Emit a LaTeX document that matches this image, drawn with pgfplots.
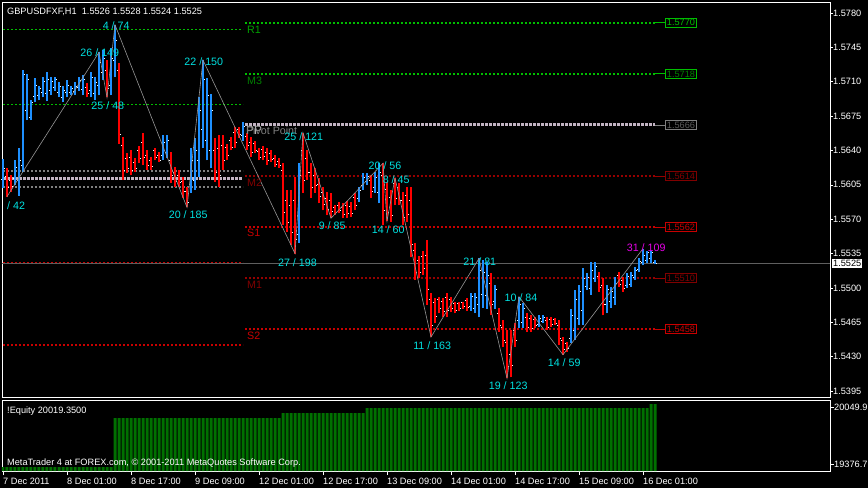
\documentclass[border=0pt]{standalone}
\usepackage{fontspec}
\setmainfont{Liberation Sans}
\usepackage{pgfplots}
\usepackage{pgfplotstable}
\pgfplotsset{compat=1.18}
\definecolor{upblue}{RGB}{30,144,255}
\definecolor{dnred}{RGB}{255,0,0}
\definecolor{lgreen}{RGB}{0,190,0}
\definecolor{tgreenA}{RGB}{0,160,0}
\definecolor{tgreenB}{RGB}{0,128,0}
\definecolor{sred}{RGB}{200,0,0}
\definecolor{mred}{RGB}{150,0,0}
\definecolor{tmred}{RGB}{128,0,0}
\definecolor{pivgray}{RGB}{195,180,195}
\definecolor{dgray}{RGB}{128,128,128}
\definecolor{zzgray}{RGB}{150,150,150}
\definecolor{curgray}{RGB}{95,95,95}
\definecolor{zcyan}{RGB}{0,225,225}
\definecolor{zmag}{RGB}{230,0,230}
\definecolor{eqgreen}{RGB}{0,112,0}
\newcommand\af{\fontsize{9.2}{11}\selectfont}
\newcommand\lf{\fontsize{10.7}{12}\selectfont}

% up bars: low, high (nan ends each stroke)
\pgfplotstableread{
i p
0 1.5602
0 1.5631
0 nan
3 1.5605
3 1.5630
3 nan
4 1.5594
4 1.5643
4 nan
5 1.5618
5 1.5722
5 nan
6 1.5671
6 1.5718
6 nan
7 1.5671
7 1.5691
7 nan
8 1.5689
8 1.5714
8 nan
9 1.5691
9 1.5706
9 nan
10 1.5694
10 1.5715
10 nan
11 1.5690
11 1.5720
11 nan
12 1.5696
12 1.5715
12 nan
13 1.5701
13 1.5715
13 nan
14 1.5694
14 1.5710
14 nan
15 1.5689
15 1.5706
15 nan
16 1.5694
16 1.5712
16 nan
17 1.5696
17 1.5706
17 nan
18 1.5696
18 1.5710
18 nan
19 1.5701
19 1.5715
19 nan
20 1.5696
20 1.5717
20 nan
22 1.5694
22 1.5720
22 nan
23 1.5691
23 1.5715
23 nan
24 1.5696
24 1.5740
24 nan
25 1.5712
25 1.5742
25 nan
27 1.5696
27 1.5744
27 nan
28 1.5715
28 1.5768
28 nan
40 1.5630
40 1.5656
40 nan
41 1.5632
41 1.5656
41 nan
47 1.5597
47 1.5643
47 nan
48 1.5600
48 1.5653
48 nan
49 1.5613
49 1.5694
49 nan
50 1.5643
50 1.5732
50 nan
51 1.5630
51 1.5714
51 nan
52 1.5622
52 1.5698
52 nan
60 1.5650
60 1.5669
60 nan
74 1.5546
74 1.5627
74 nan
89 1.5587
89 1.5603
89 nan
90 1.5600
90 1.5617
90 nan
91 1.5605
91 1.5617
91 nan
93 1.5597
93 1.5618
93 nan
94 1.5586
94 1.5627
94 nan
117 1.5477
117 1.5495
117 nan
118 1.5474
118 1.5495
118 nan
119 1.5470
119 1.5530
119 nan
120 1.5480
120 1.5528
120 nan
121 1.5479
121 1.5526
121 nan
123 1.5479
123 1.5503
123 nan
129 1.5459
129 1.5491
129 nan
130 1.5459
130 1.5485
130 nan
134 1.5460
134 1.5472
134 nan
135 1.5464
135 1.5472
135 nan
142 1.5444
142 1.5479
142 nan
143 1.5447
143 1.5498
143 nan
144 1.5462
144 1.5503
144 nan
145 1.5462
145 1.5520
145 nan
146 1.5498
146 1.5515
146 nan
147 1.5493
147 1.5526
147 nan
148 1.5506
148 1.5526
148 nan
151 1.5474
151 1.5503
151 nan
152 1.5480
152 1.5501
152 nan
153 1.5483
153 1.5511
153 nan
156 1.5500
156 1.5515
156 nan
157 1.5501
157 1.5516
157 nan
158 1.5508
158 1.5521
158 nan
159 1.5516
159 1.5530
159 nan
160 1.5523
160 1.5540
160 nan
161 1.5525
161 1.5538
161 nan
162 1.5525
162 1.5538
162 nan
163 1.5524
163 1.5528
163 nan
}\uphl

% down bars: low, high
\pgfplotstableread{
i p
1 1.5593
1 1.5622
1 nan
2 1.5598
2 1.5615
2 nan
21 1.5694
21 1.5709
21 nan
26 1.5694
26 1.5732
26 nan
29 1.5647
29 1.5729
29 nan
30 1.5610
30 1.5654
30 nan
31 1.5617
31 1.5637
31 nan
32 1.5615
32 1.5640
32 nan
33 1.5618
33 1.5632
33 nan
34 1.5627
34 1.5645
34 nan
35 1.5625
35 1.5658
35 nan
36 1.5620
36 1.5640
36 nan
37 1.5620
37 1.5633
37 nan
38 1.5630
38 1.5643
38 nan
39 1.5628
39 1.5638
39 nan
42 1.5607
42 1.5638
42 nan
43 1.5603
43 1.5623
43 nan
44 1.5603
44 1.5620
44 nan
45 1.5592
45 1.5613
45 nan
46 1.5582
46 1.5603
46 nan
53 1.5608
53 1.5653
53 nan
54 1.5603
54 1.5656
54 nan
55 1.5620
55 1.5656
55 nan
56 1.5630
56 1.5647
56 nan
57 1.5640
57 1.5654
57 nan
58 1.5642
58 1.5664
58 nan
59 1.5653
59 1.5664
59 nan
61 1.5640
61 1.5658
61 nan
62 1.5633
62 1.5654
62 nan
63 1.5637
63 1.5650
63 nan
64 1.5630
64 1.5642
64 nan
65 1.5630
65 1.5645
65 nan
66 1.5625
66 1.5643
66 nan
67 1.5628
67 1.5640
67 nan
68 1.5623
68 1.5635
68 nan
69 1.5622
69 1.5632
69 nan
70 1.5564
70 1.5627
70 nan
71 1.5557
71 1.5600
71 nan
72 1.5544
72 1.5600
72 nan
73 1.5535
73 1.5613
73 nan
75 1.5597
75 1.5658
75 nan
76 1.5610
76 1.5640
76 nan
77 1.5592
77 1.5627
77 nan
78 1.5597
78 1.5622
78 nan
79 1.5586
79 1.5612
79 nan
80 1.5579
80 1.5603
80 nan
81 1.5574
81 1.5598
81 nan
82 1.5571
82 1.5597
82 nan
83 1.5574
83 1.5584
83 nan
84 1.5576
84 1.5587
84 nan
85 1.5571
85 1.5586
85 nan
86 1.5571
86 1.5589
86 nan
87 1.5572
87 1.5587
87 nan
88 1.5579
88 1.5597
88 nan
92 1.5592
92 1.5615
92 nan
95 1.5564
95 1.5627
95 nan
96 1.5568
96 1.5608
96 nan
97 1.5567
97 1.5600
97 nan
98 1.5584
98 1.5612
98 nan
99 1.5584
99 1.5607
99 nan
100 1.5564
100 1.5598
100 nan
101 1.5567
101 1.5603
101 nan
102 1.5531
102 1.5603
102 nan
103 1.5508
103 1.5546
103 nan
104 1.5510
104 1.5533
104 nan
105 1.5513
105 1.5538
105 nan
106 1.5483
106 1.5549
106 nan
107 1.5450
107 1.5495
107 nan
108 1.5464
108 1.5490
108 nan
109 1.5474
109 1.5491
109 nan
110 1.5470
110 1.5490
110 nan
111 1.5470
111 1.5495
111 nan
112 1.5475
112 1.5491
112 nan
113 1.5474
113 1.5486
113 nan
114 1.5477
114 1.5486
114 nan
115 1.5479
115 1.5486
115 nan
116 1.5477
116 1.5490
116 nan
122 1.5472
122 1.5515
122 nan
124 1.5455
124 1.5480
124 nan
125 1.5440
125 1.5467
125 nan
126 1.5408
126 1.5457
126 nan
127 1.5409
127 1.5457
127 nan
128 1.5440
128 1.5464
128 nan
131 1.5455
131 1.5474
131 nan
132 1.5455
132 1.5472
132 nan
133 1.5459
133 1.5470
133 nan
136 1.5457
136 1.5470
136 nan
137 1.5460
137 1.5470
137 nan
138 1.5462
138 1.5469
138 nan
139 1.5442
139 1.5467
139 nan
140 1.5432
140 1.5450
140 nan
141 1.5435
141 1.5445
141 nan
149 1.5496
149 1.5516
149 nan
150 1.5472
150 1.5510
150 nan
154 1.5501
154 1.5516
154 nan
155 1.5496
155 1.5511
155 nan
}\dnhl

% open / close of every bar
\pgfplotstableread{
i o c
0 1.5611 1.5622
1 1.5614 1.5602
2 1.5610 1.5603
3 1.5612 1.5623
4 1.5610 1.5630
5 1.5625 1.5717
6 1.5681 1.5712
7 1.5674 1.5689
8 1.5695 1.5706
9 1.5696 1.5703
10 1.5699 1.5710
11 1.5698 1.5712
12 1.5701 1.5710
13 1.5704 1.5712
14 1.5699 1.5705
15 1.5694 1.5701
16 1.5699 1.5706
17 1.5699 1.5703
18 1.5700 1.5705
19 1.5704 1.5711
20 1.5702 1.5712
21 1.5704 1.5698
22 1.5701 1.5714
23 1.5698 1.5709
24 1.5706 1.5730
25 1.5720 1.5734
26 1.5722 1.5703
27 1.5706 1.5734
28 1.5732 1.5752
29 1.5722 1.5656
30 1.5645 1.5620
31 1.5632 1.5622
32 1.5633 1.5620
33 1.5628 1.5622
34 1.5640 1.5632
35 1.5648 1.5633
36 1.5635 1.5625
37 1.5630 1.5624
38 1.5640 1.5633
39 1.5635 1.5630
40 1.5635 1.5648
41 1.5638 1.5650
42 1.5630 1.5615
43 1.5618 1.5608
44 1.5615 1.5607
45 1.5608 1.5598
46 1.5598 1.5587
47 1.5605 1.5630
48 1.5610 1.5640
49 1.5630 1.5681
50 1.5661 1.5712
51 1.5650 1.5696
52 1.5640 1.5681
53 1.5640 1.5618
54 1.5642 1.5615
55 1.5645 1.5630
56 1.5643 1.5635
57 1.5650 1.5643
58 1.5658 1.5648
59 1.5661 1.5656
60 1.5655 1.5665
61 1.5654 1.5645
62 1.5648 1.5638
63 1.5647 1.5640
64 1.5639 1.5633
65 1.5641 1.5634
66 1.5638 1.5630
67 1.5637 1.5631
68 1.5632 1.5626
69 1.5629 1.5625
70 1.5620 1.5577
71 1.5589 1.5567
72 1.5584 1.5557
73 1.5589 1.5549
74 1.5554 1.5615
75 1.5640 1.5610
76 1.5632 1.5618
77 1.5618 1.5602
78 1.5615 1.5604
79 1.5605 1.5593
80 1.5597 1.5585
81 1.5591 1.5580
82 1.5589 1.5578
83 1.5582 1.5577
84 1.5584 1.5579
85 1.5582 1.5575
86 1.5584 1.5576
87 1.5583 1.5576
88 1.5592 1.5584
89 1.5591 1.5599
90 1.5604 1.5613
91 1.5608 1.5614
92 1.5610 1.5598
93 1.5602 1.5613
94 1.5597 1.5618
95 1.5615 1.5579
96 1.5600 1.5577
97 1.5592 1.5574
98 1.5606 1.5591
99 1.5602 1.5589
100 1.5589 1.5572
101 1.5594 1.5575
102 1.5589 1.5544
103 1.5538 1.5516
104 1.5528 1.5516
105 1.5532 1.5520
106 1.5533 1.5498
107 1.5488 1.5462
108 1.5485 1.5471
109 1.5488 1.5479
110 1.5486 1.5476
111 1.5490 1.5477
112 1.5488 1.5479
113 1.5484 1.5477
114 1.5484 1.5479
115 1.5485 1.5481
116 1.5487 1.5480
117 1.5481 1.5491
118 1.5479 1.5490
119 1.5483 1.5518
120 1.5493 1.5516
121 1.5492 1.5513
122 1.5505 1.5483
123 1.5486 1.5498
124 1.5474 1.5462
125 1.5460 1.5447
126 1.5445 1.5420
127 1.5432 1.5421
128 1.5457 1.5447
129 1.5467 1.5483
130 1.5465 1.5479
131 1.5470 1.5460
132 1.5469 1.5459
133 1.5468 1.5462
134 1.5463 1.5469
135 1.5466 1.5470
136 1.5467 1.5460
137 1.5468 1.5463
138 1.5468 1.5464
139 1.5462 1.5449
140 1.5447 1.5437
141 1.5443 1.5438
142 1.5449 1.5472
143 1.5457 1.5488
144 1.5469 1.5496
145 1.5477 1.5510
146 1.5502 1.5511
147 1.5500 1.5518
148 1.5510 1.5522
149 1.5512 1.5501
150 1.5503 1.5483
151 1.5483 1.5498
152 1.5486 1.5496
153 1.5490 1.5505
154 1.5513 1.5504
155 1.5508 1.5500
156 1.5503 1.5512
157 1.5504 1.5513
158 1.5511 1.5518
159 1.5519 1.5527
160 1.5526 1.5533
161 1.5528 1.5536
162 1.5530 1.5536
163 1.5526 1.5525
}\octab

\pgfplotstableread{
i e
0 19341
1 19341
2 19341
3 19341
4 19341
5 19341
6 19341
7 19341
8 19341
9 19341
10 19341
11 19341
12 19341
13 19341
14 19341
15 19341
16 19341
17 19341
18 19341
19 19341
20 19341
21 19341
22 19341
23 19341
24 19341
25 19341
26 19341
27 19341
28 19920
29 19920
30 19920
31 19920
32 19920
33 19920
34 19920
35 19920
36 19920
37 19920
38 19920
39 19920
40 19920
41 19920
42 19920
43 19920
44 19920
45 19920
46 19920
47 19920
48 19920
49 19920
50 19920
51 19920
52 19920
53 19920
54 19920
55 19920
56 19920
57 19920
58 19920
59 19920
60 19920
61 19920
62 19920
63 19920
64 19920
65 19920
66 19920
67 19920
68 19920
69 19920
70 19979
71 19979
72 19979
73 19979
74 19979
75 19979
76 19979
77 19979
78 19979
79 19979
80 19979
81 19979
82 19979
83 19979
84 19979
85 19979
86 19979
87 19979
88 19979
89 19979
90 19979
91 20038
92 20038
93 20038
94 20038
95 20038
96 20038
97 20038
98 20038
99 20038
100 20038
101 20038
102 20038
103 20038
104 20038
105 20038
106 20038
107 20038
108 20038
109 20038
110 20038
111 20038
112 20038
113 20038
114 20038
115 20038
116 20038
117 20038
118 20038
119 20038
120 20038
121 20038
122 20038
123 20038
124 20038
125 20038
126 20038
127 20038
128 20038
129 20038
130 20038
131 20038
132 20038
133 20038
134 20038
135 20038
136 20038
137 20038
138 20038
139 20038
140 20038
141 20038
142 20038
143 20038
144 20038
145 20038
146 20038
147 20038
148 20038
149 20038
150 20038
151 20038
152 20038
153 20038
154 20038
155 20038
156 20038
157 20038
158 20038
159 20038
160 20038
161 20038
162 20085
163 20085
}\eqtab

\begin{document}
\begin{tikzpicture}
\fill[black] (0,0) rectangle (868pt,-488pt);
\useasboundingbox (0,0) rectangle (868pt,-488pt);

\begin{axis}[
  at={(2pt,-397pt)}, anchor=south west,
  scale only axis, width=828pt, height=395pt,
  xmin=-0.25, xmax=206.75, ymin=1.53889, ymax=1.57912,
  axis line style={white, line width=0.8pt},
  xtick=\empty,
  scaled y ticks=false,
  ytick={1.5395,1.5430,1.5465,1.5500,1.5535,1.5570,1.5605,1.5640,1.5675,1.5710,1.5745,1.5780},
  yticklabels={1.5395,1.5430,1.5465,1.5500,1.5535,1.5570,1.5605,1.5640,1.5675,1.5710,1.5745,1.5780},
  ytick pos=right, yticklabel pos=right,
  tick align=outside, major tick length=3pt,
  major tick style={white, line width=0.6pt},
  yticklabel style={font=\af, text=white, anchor=west, inner sep=0pt},
  clip mode=individual,
  unbounded coords=jump,
]
% previous-day levels
\addplot[lgreen, line width=1.6pt, dash pattern=on 2pt off 2pt] coordinates {(0,1.5763) (60,1.5763)};
\addplot[lgreen, line width=1.6pt, dash pattern=on 2pt off 2pt] coordinates {(0,1.5687) (60,1.5687)};
\addplot[dgray, line width=1.6pt, dash pattern=on 2pt off 2pt] coordinates {(0,1.5619) (60,1.5619)};
\addplot[pivgray, line width=3pt, dash pattern=on 3pt off 1pt] coordinates {(0,1.5611) (60,1.5611)};
\addplot[dgray, line width=1.6pt, dash pattern=on 2pt off 2pt] coordinates {(0,1.5603) (60,1.5603)};
\addplot[sred, line width=1.6pt, dash pattern=on 2pt off 2pt] coordinates {(0,1.5526) (60,1.5526)};
\addplot[sred, line width=1.6pt, dash pattern=on 2pt off 2pt] coordinates {(0,1.5442) (60,1.5442)};
% current levels
\addplot[lgreen, line width=1.6pt, dash pattern=on 2pt off 2pt] coordinates {(60.5,1.5770) (163,1.5770)};
\addplot[lgreen, line width=0.8pt] coordinates {(163,1.5770) (165.7,1.5770)};
\addplot[lgreen, line width=1.6pt, dash pattern=on 2pt off 2pt] coordinates {(60.5,1.5718) (163,1.5718)};
\addplot[lgreen, line width=0.8pt] coordinates {(163,1.5718) (165.7,1.5718)};
\addplot[pivgray, line width=3pt, dash pattern=on 3pt off 1pt] coordinates {(60.5,1.5666) (163,1.5666)};
\addplot[dgray, line width=0.8pt] coordinates {(163,1.5666) (165.7,1.5666)};
\addplot[mred, line width=1.6pt, dash pattern=on 2pt off 2pt] coordinates {(60.5,1.5614) (163,1.5614)};
\addplot[mred, line width=0.8pt] coordinates {(163,1.5614) (165.7,1.5614)};
\addplot[sred, line width=1.6pt, dash pattern=on 2pt off 2pt] coordinates {(60.5,1.5562) (163,1.5562)};
\addplot[sred, line width=0.8pt] coordinates {(163,1.5562) (165.7,1.5562)};
\addplot[mred, line width=1.6pt, dash pattern=on 2pt off 2pt] coordinates {(60.5,1.5510) (163,1.5510)};
\addplot[mred, line width=0.8pt] coordinates {(163,1.5510) (165.7,1.5510)};
\addplot[sred, line width=1.6pt, dash pattern=on 2pt off 2pt] coordinates {(60.5,1.5458) (163,1.5458)};
\addplot[sred, line width=0.8pt] coordinates {(163,1.5458) (165.7,1.5458)};
% current price line
\addplot[curgray, line width=0.8pt] coordinates {(-0.25,1.5525) (206.75,1.5525)};

% bars (high-low), 2 px wide, aligned to the pixel grid
\addplot[upblue, line width=2pt, mark=none, unbounded coords=jump] table[x=i, y=p] {\uphl};
\addplot[dnred, line width=2pt, mark=none, unbounded coords=jump] table[x=i, y=p] {\dnhl};
% open / close ticks
\addplot[white, only marks, mark=-, mark size=0.5pt, mark options={xshift=-1.5pt, line width=0.8pt}] table[x=i, y=o] {\octab};
\addplot[white, only marks, mark=-, mark size=0.5pt, mark options={xshift=1.5pt, line width=0.8pt}] table[x=i, y=c] {\octab};

% zigzag
\addplot[zzgray, line width=0.6pt] coordinates {(1,1.5593) (24,1.5740) (26,1.5694) (28,1.5768) (46,1.5582) (50,1.5732) (73,1.5535) (75,1.5658) (82,1.5571) (95,1.5627) (96,1.5568) (98,1.5612) (107,1.5450) (119,1.5530) (126,1.5408) (129,1.5491) (140,1.5432) (160,1.5540)};

% level labels
\node[font=\lf, text=tgreenA, anchor=west, inner sep=0pt] at (axis cs:61,1.5763) {R1};
\node[font=\lf, text=tgreenB, anchor=west, inner sep=0pt] at (axis cs:61,1.5711) {M3};
\node[font=\fontsize{12}{13}\selectfont, text={rgb,255:red,175;green,175;blue,175}, anchor=west, inner sep=0pt] at (axis cs:60.7,1.5660) {PP};
\node[font=\lf, text=dgray, anchor=west, inner sep=0pt] at (axis cs:60.7,1.5660) {Pivot Point};
\node[font=\lf, text=tmred, anchor=west, inner sep=0pt] at (axis cs:61,1.5607) {M2};
\node[font=\lf, text=sred, anchor=west, inner sep=0pt] at (axis cs:61,1.5556) {S1};
\node[font=\lf, text=tmred, anchor=west, inner sep=0pt] at (axis cs:61,1.5503) {M1};
\node[font=\lf, text=sred, anchor=west, inner sep=0pt] at (axis cs:61,1.5451) {S2};

% level price boxes
\node[font=\af, text=lgreen, draw=lgreen, line width=0.8pt, inner sep=1.2pt, fill=black] at (axis cs:169.5,1.5770) {1.5770};
\node[font=\af, text=tgreenB, draw=lgreen, line width=0.8pt, inner sep=1.2pt, fill=black] at (axis cs:169.5,1.5718) {1.5718};
\node[font=\af, text={rgb,255:red,90;green,90;blue,90}, draw=dgray, line width=0.8pt, inner sep=1.2pt, fill=black] at (axis cs:169.5,1.5666) {1.5666};
\node[font=\af, text=tmred, draw=tmred, line width=0.8pt, inner sep=1.2pt, fill=black] at (axis cs:169.5,1.5614) {1.5614};
\node[font=\af, text=sred, draw=sred, line width=0.8pt, inner sep=1.2pt, fill=black] at (axis cs:169.5,1.5562) {1.5562};
\node[font=\af, text=tmred, draw=tmred, line width=0.8pt, inner sep=1.2pt, fill=black] at (axis cs:169.5,1.5510) {1.5510};
\node[font=\af, text=sred, draw=sred, line width=0.8pt, inner sep=1.2pt, fill=black] at (axis cs:169.5,1.5458) {1.5458};

% zigzag labels
\node[font=\lf, text=zcyan, anchor=west, inner sep=0pt] at (axis cs:1,1.5584) {/ 42};
\node[font=\lf, text=zcyan, inner sep=0pt] at (axis cs:24.2,1.5740) {26 / 149};
\node[font=\lf, text=zcyan, inner sep=0pt] at (axis cs:26.2,1.5686) {25 / 48};
\node[font=\lf, text=zcyan, inner sep=0pt] at (axis cs:28.3,1.5767) {4 / 74};
\node[font=\lf, text=zcyan, inner sep=0pt] at (axis cs:50.2,1.5730) {22 / 150};
\node[font=\lf, text=zcyan, inner sep=0pt] at (axis cs:46.3,1.5575) {20 / 185};
\node[font=\lf, text=zcyan, inner sep=0pt] at (axis cs:75.2,1.5654) {25 / 121};
\node[font=\lf, text=zcyan, inner sep=0pt] at (axis cs:73.6,1.5526) {27 / 198};
\node[font=\lf, text=zcyan, inner sep=0pt] at (axis cs:82.3,1.5563) {9 / 85};
\node[font=\lf, text=zcyan, inner sep=0pt] at (axis cs:95.5,1.5625) {20 / 56};
\node[font=\lf, text=zcyan, inner sep=0pt] at (axis cs:98.3,1.5610) {8 / 45};
\node[font=\lf, text=zcyan, inner sep=0pt] at (axis cs:96.3,1.5559) {14 / 60};
\node[font=\lf, text=zcyan, inner sep=0pt] at (axis cs:107.3,1.5441) {11 / 163};
\node[font=\lf, text=zcyan, inner sep=0pt] at (axis cs:119.2,1.5527) {21 / 81};
\node[font=\lf, text=zcyan, inner sep=0pt] at (axis cs:126.3,1.5400) {19 / 123};
\node[font=\lf, text=zcyan, inner sep=0pt] at (axis cs:129.5,1.5490) {10 / 84};
\node[font=\lf, text=zcyan, inner sep=0pt] at (axis cs:140.3,1.5424) {14 / 59};
\node[font=\lf, text=zmag, inner sep=0pt] at (axis cs:160.8,1.5541) {31 / 109};

% current price tag
\node[font=\af, text=black, fill=white, inner sep=1pt, anchor=west, xshift=2pt] at (axis cs:206.75,1.5525) {1.5525};
\end{axis}

\begin{axis}[
  at={(2pt,-471pt)}, anchor=south west,
  scale only axis, width=828pt, height=71pt,
  xmin=-0.25, xmax=206.75, ymin=19294, ymax=20132.6,
  axis line style={white, line width=0.8pt},
  scaled y ticks=false,
  xtick={0,16,32,48,64,80,96,112,128,144,160},
  xticklabels={7 Dec 2011,8 Dec 01:00,8 Dec 17:00,9 Dec 09:00,12 Dec 01:00,12 Dec 17:00,13 Dec 09:00,14 Dec 01:00,14 Dec 17:00,15 Dec 09:00,16 Dec 01:00},
  xtick pos=bottom, xticklabel pos=bottom,
  ytick={19376.7,20049.9}, yticklabels={19376.7,20049.9},
  ytick pos=right, yticklabel pos=right,
  tick align=outside, major tick length=4pt,
  major tick style={white, line width=0.6pt},
  xticklabel style={font=\af, text=white, anchor=north west, inner sep=0pt, yshift=-3pt},
  yticklabel style={font=\af, text=white, anchor=west, inner sep=0pt},
  clip mode=individual,
]
\addplot[ybar, bar width=0.75, fill=eqgreen, draw=none] table[x=i, y=e] {\eqtab};
\end{axis}

\node[font=\af, text=white, anchor=base west, inner sep=0pt] at (7pt,-14pt) {GBPUSDFXF,H1\ \ 1.5526 1.5528 1.5524 1.5525};
\node[font=\af, text=white, anchor=base west, inner sep=0pt] at (7pt,-413pt) {!Equity 20019.3500};
\node[font=\af, text=white, anchor=base west, inner sep=0pt] at (7pt,-465pt) {MetaTrader 4 at FOREX.com, © 2001-2011 MetaQuotes Software Corp.};
\end{tikzpicture}
\end{document}
